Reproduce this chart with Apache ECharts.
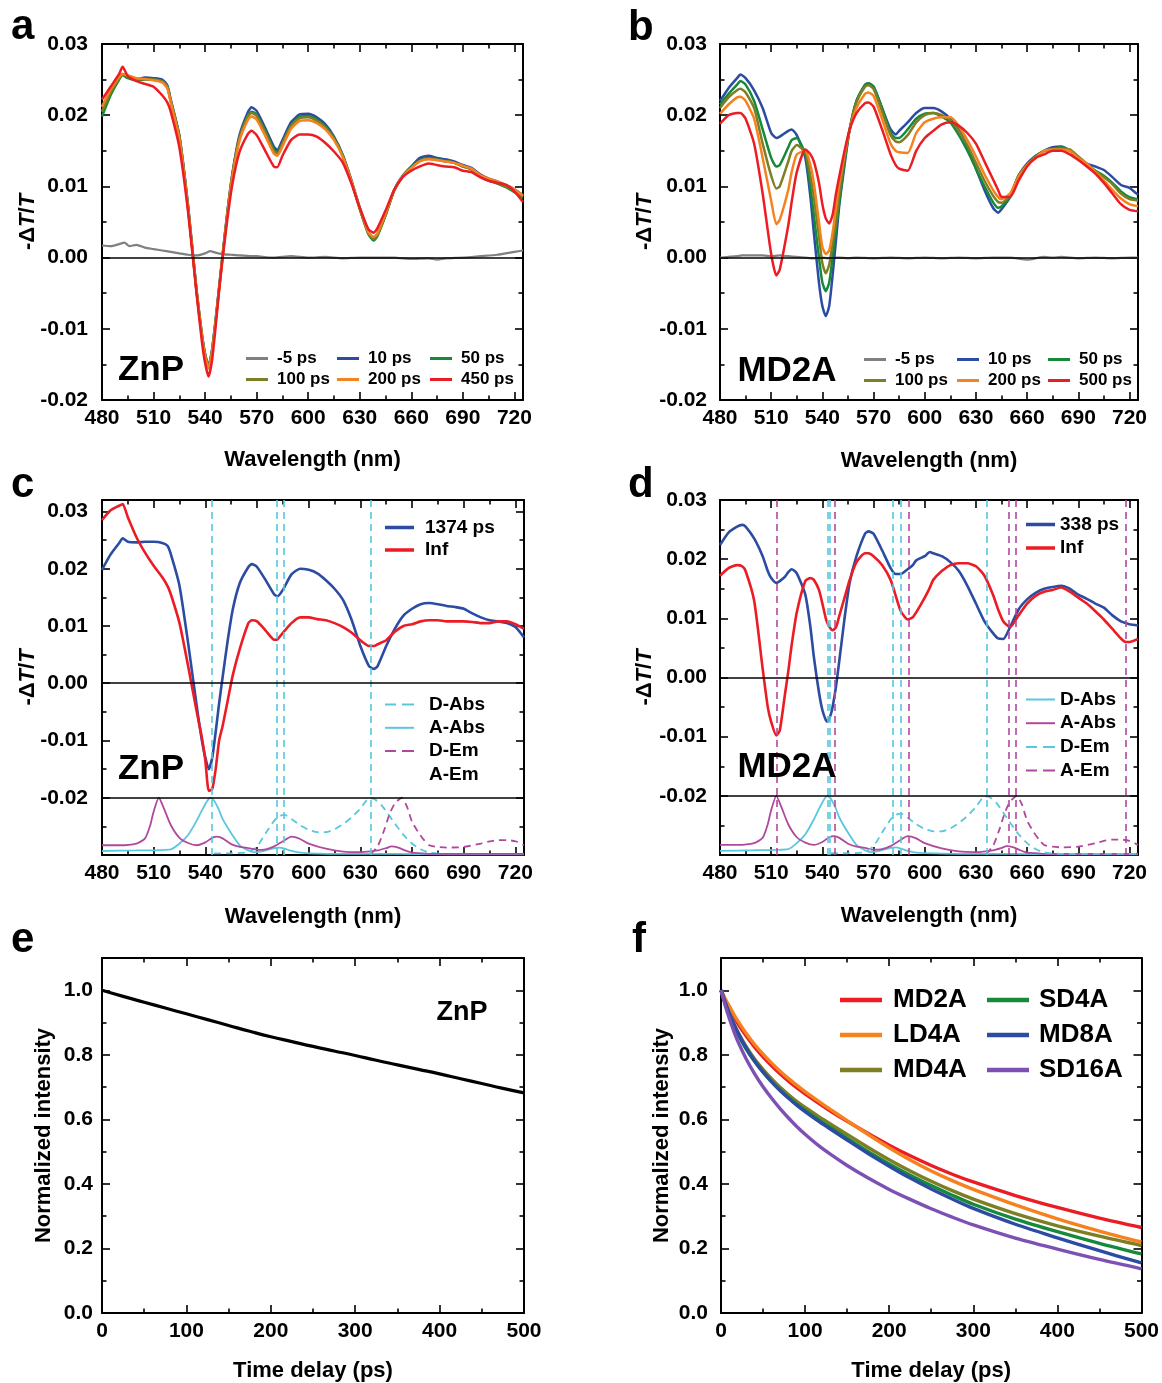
<!DOCTYPE html>
<html><head><meta charset="utf-8">
<script src="https://cdn.jsdelivr.net/npm/echarts@6/dist/echarts.min.js"></script>
<style>html,body{margin:0;padding:0;background:#fff}#c{width:1162px;height:1383px}</style>
</head><body><div id="c"></div>
<script>
// ---------------- DATA ----------------
// Panel a (ZnP transient spectra)
const wlA = [480,485,490,492,495,500,505,510,515,518,520,525,530,535,538,540,542,544,546,548,550,553,556,560,565,567,570,575,580,582,585,590,595,600,605,610,615,620,625,630,635,638,640,645,650,655,660,665,670,675,680,685,690,695,700,705,710,715,720,725];
const wlNeg = [480,485,490,493,496,500,505,510,515,520,525,530,535,540,543,546,550,555,560,570,580,590,600,610,620,630,640,650,660,670,675,680,690,700,710,720,725];
const aNeg5 = [0.0017,0.0016,0.0019,0.0021,0.0016,0.0018,0.0014,0.0012,0.0010,0.0008,0.0006,0.0004,0.0003,0.0006,0.0009,0.0007,0.0005,0.0004,0.0003,0.0002,0.0000,0.0002,0.0000,0.0001,-0.0001,0.0000,0.0000,0.0000,-0.0002,-0.0001,-0.0003,-0.0001,0.0000,0.0002,0.0004,0.0008,0.0010];
const a10 = [0.0211,0.0235,0.0255,0.0258,0.0255,0.0250,0.0253,0.0252,0.0250,0.0242,0.0222,0.0172,0.0075,-0.0045,-0.0105,-0.0135,-0.0152,-0.0130,-0.0090,-0.0045,0.0000,0.0065,0.0120,0.0172,0.0205,0.0211,0.0206,0.0182,0.0156,0.0151,0.0165,0.0190,0.0201,0.0202,0.0197,0.0187,0.0170,0.0145,0.0110,0.0070,0.0035,0.0025,0.0030,0.0060,0.0095,0.0115,0.0128,0.0140,0.0143,0.0140,0.0138,0.0135,0.0130,0.0126,0.0117,0.0111,0.0107,0.0102,0.0096,0.0088];
const a50 = [0.0198,0.0228,0.0250,0.0256,0.0252,0.0249,0.0250,0.0250,0.0247,0.0240,0.0220,0.0170,0.0073,-0.0047,-0.0107,-0.0137,-0.0154,-0.0132,-0.0092,-0.0047,-0.0002,0.0063,0.0118,0.0168,0.0200,0.0205,0.0201,0.0178,0.0152,0.0148,0.0161,0.0186,0.0198,0.0199,0.0194,0.0184,0.0168,0.0144,0.0108,0.0068,0.0033,0.0024,0.0029,0.0059,0.0094,0.0114,0.0127,0.0137,0.0140,0.0138,0.0136,0.0133,0.0128,0.0124,0.0114,0.0108,0.0104,0.0099,0.0092,0.0084];
const a100 = [0.0205,0.0232,0.0252,0.0257,0.0254,0.0250,0.0251,0.0250,0.0248,0.0240,0.0220,0.0170,0.0073,-0.0046,-0.0106,-0.0136,-0.0153,-0.0131,-0.0091,-0.0046,-0.0001,0.0064,0.0118,0.0168,0.0199,0.0203,0.0199,0.0176,0.0150,0.0146,0.0160,0.0185,0.0196,0.0197,0.0192,0.0183,0.0167,0.0143,0.0108,0.0069,0.0034,0.0026,0.0030,0.0060,0.0094,0.0114,0.0126,0.0136,0.0139,0.0137,0.0135,0.0133,0.0128,0.0124,0.0115,0.0109,0.0105,0.0100,0.0094,0.0086];
const a200 = [0.0212,0.0236,0.0254,0.0258,0.0256,0.0252,0.0251,0.0249,0.0246,0.0238,0.0218,0.0167,0.0071,-0.0047,-0.0108,-0.0139,-0.0156,-0.0134,-0.0094,-0.0048,-0.0003,0.0061,0.0115,0.0164,0.0194,0.0198,0.0194,0.0171,0.0146,0.0143,0.0156,0.0181,0.0192,0.0193,0.0189,0.0180,0.0165,0.0142,0.0108,0.0070,0.0036,0.0029,0.0033,0.0062,0.0095,0.0114,0.0126,0.0135,0.0138,0.0137,0.0135,0.0133,0.0129,0.0125,0.0116,0.0111,0.0107,0.0102,0.0096,0.0087];
const a450 = [0.0222,0.0240,0.0258,0.0268,0.0255,0.0248,0.0244,0.0240,0.0228,0.0218,0.0205,0.0155,0.0066,-0.0050,-0.0115,-0.0148,-0.0167,-0.0145,-0.0100,-0.0050,-0.0005,0.0055,0.0105,0.0148,0.0174,0.0178,0.0172,0.0150,0.0128,0.0127,0.0143,0.0165,0.0173,0.0173,0.0170,0.0161,0.0149,0.0134,0.0105,0.0070,0.0040,0.0035,0.0040,0.0066,0.0095,0.0113,0.0122,0.0128,0.0132,0.0130,0.0128,0.0127,0.0122,0.0120,0.0113,0.0108,0.0105,0.0102,0.0093,0.0078];

// Panel b (MD2A transient spectra)
const wlB = [480,485,490,492,495,500,505,510,513,515,520,522,525,530,533,535,538,540,542,544,546,548,550,553,556,560,565,567,570,575,580,583,585,590,595,600,605,610,615,620,625,630,635,640,643,645,650,655,660,665,670,675,680,685,690,695,700,705,710,715,720,725];
const bNeg5 = [0.0000,0.0001,0.0002,0.0003,0.0003,0.0003,0.0003,0.0002,0.0003,0.0002,0.0001,0.0000,-0.0001,0.0000,-0.0001,0.0000,0.0000,-0.0001,0.0000,-0.0001,0.0000,-0.0001,0.0000,-0.0001,0.0000,-0.0001,0.0000,0.0000,-0.0003,0.0001,0.0000,0.0001,-0.0001,0.0000,-0.0001,0.0000,0.0000];
const b10 = [0.0220,0.0238,0.0252,0.0257,0.0252,0.0235,0.0210,0.0175,0.0168,0.0170,0.0178,0.0180,0.0172,0.0140,0.0085,0.0035,-0.0035,-0.0068,-0.0082,-0.0068,-0.0025,0.0025,0.0075,0.0130,0.0180,0.0220,0.0243,0.0245,0.0240,0.0210,0.0180,0.0173,0.0178,0.0190,0.0203,0.0210,0.0210,0.0205,0.0195,0.0180,0.0155,0.0125,0.0095,0.0070,0.0063,0.0068,0.0085,0.0115,0.0132,0.0143,0.0150,0.0155,0.0156,0.0150,0.0140,0.0132,0.0128,0.0123,0.0113,0.0102,0.0098,0.0088];
const b50 = [0.0215,0.0230,0.0243,0.0248,0.0243,0.0220,0.0180,0.0140,0.0128,0.0130,0.0155,0.0165,0.0168,0.0145,0.0100,0.0060,0.0000,-0.0035,-0.0047,-0.0035,0.0000,0.0040,0.0080,0.0135,0.0180,0.0220,0.0242,0.0245,0.0240,0.0210,0.0175,0.0168,0.0168,0.0180,0.0195,0.0202,0.0203,0.0198,0.0190,0.0172,0.0150,0.0125,0.0100,0.0078,0.0070,0.0072,0.0086,0.0115,0.0130,0.0142,0.0150,0.0153,0.0155,0.0150,0.0140,0.0130,0.0122,0.0115,0.0105,0.0093,0.0085,0.0082];
const b100 = [0.0210,0.0225,0.0235,0.0237,0.0232,0.0210,0.0160,0.0115,0.0097,0.0100,0.0135,0.0150,0.0158,0.0148,0.0115,0.0085,0.0030,-0.0008,-0.0022,-0.0010,0.0020,0.0050,0.0090,0.0140,0.0180,0.0218,0.0240,0.0242,0.0237,0.0205,0.0172,0.0163,0.0162,0.0172,0.0190,0.0200,0.0203,0.0200,0.0193,0.0178,0.0158,0.0133,0.0108,0.0087,0.0078,0.0077,0.0088,0.0115,0.0130,0.0142,0.0150,0.0152,0.0153,0.0152,0.0142,0.0132,0.0122,0.0113,0.0103,0.0090,0.0082,0.0080];
const b200 = [0.0202,0.0215,0.0225,0.0226,0.0220,0.0195,0.0140,0.0080,0.0047,0.0053,0.0095,0.0120,0.0145,0.0150,0.0130,0.0105,0.0050,0.0015,0.0005,0.0010,0.0035,0.0070,0.0105,0.0145,0.0180,0.0210,0.0230,0.0232,0.0227,0.0195,0.0160,0.0150,0.0148,0.0147,0.0175,0.0190,0.0195,0.0197,0.0197,0.0185,0.0165,0.0142,0.0117,0.0095,0.0085,0.0082,0.0090,0.0113,0.0130,0.0140,0.0150,0.0152,0.0152,0.0150,0.0140,0.0132,0.0120,0.0108,0.0095,0.0083,0.0075,0.0072];
const b500 = [0.0188,0.0200,0.0203,0.0203,0.0195,0.0160,0.0090,0.0005,-0.0025,-0.0017,0.0045,0.0078,0.0120,0.0152,0.0145,0.0135,0.0105,0.0075,0.0055,0.0048,0.0060,0.0090,0.0115,0.0150,0.0180,0.0203,0.0217,0.0218,0.0212,0.0180,0.0145,0.0130,0.0125,0.0122,0.0150,0.0168,0.0178,0.0187,0.0190,0.0185,0.0175,0.0160,0.0135,0.0110,0.0095,0.0085,0.0085,0.0108,0.0128,0.0140,0.0145,0.0150,0.0150,0.0145,0.0137,0.0128,0.0118,0.0105,0.0090,0.0075,0.0067,0.0065];

// Panel c (ZnP decay-associated spectra)
const c1374 = [0.0198,0.0225,0.0245,0.0253,0.0247,0.0246,0.0247,0.0247,0.0245,0.0240,0.0225,0.0170,0.0070,-0.0040,-0.0100,-0.0130,-0.0150,-0.0130,-0.0085,-0.0035,0.0010,0.0075,0.0130,0.0175,0.0203,0.0208,0.0203,0.0180,0.0155,0.0152,0.0163,0.0190,0.0200,0.0198,0.0192,0.0180,0.0165,0.0145,0.0110,0.0065,0.0030,0.0025,0.0030,0.0065,0.0095,0.0118,0.0130,0.0138,0.0140,0.0138,0.0135,0.0133,0.0130,0.0122,0.0115,0.0110,0.0108,0.0105,0.0098,0.0080];
const cInf = [0.0285,0.0302,0.0310,0.0313,0.0290,0.0255,0.0228,0.0205,0.0185,0.0170,0.0155,0.0105,0.0030,-0.0050,-0.0095,-0.0135,-0.0188,-0.0185,-0.0150,-0.0100,-0.0075,-0.0030,0.0015,0.0060,0.0105,0.0110,0.0108,0.0092,0.0076,0.0077,0.0088,0.0105,0.0115,0.0115,0.0112,0.0110,0.0105,0.0098,0.0088,0.0075,0.0065,0.0065,0.0068,0.0075,0.0090,0.0100,0.0103,0.0108,0.0110,0.0110,0.0108,0.0108,0.0108,0.0107,0.0105,0.0105,0.0108,0.0108,0.0103,0.0095];

// Panel d (MD2A decay-associated spectra)
const wlD = [480,485,490,493,495,500,505,508,510,513,515,518,520,522,525,530,533,535,538,540,542,543,545,546,548,550,553,556,560,565,567,570,575,580,583,586,590,593,595,600,603,605,610,615,620,625,630,635,640,643,646,650,655,660,665,670,675,680,685,690,695,700,705,710,715,718,720,725];
const d338 = [0.0224,0.0245,0.0255,0.0258,0.0255,0.0235,0.0205,0.0180,0.0168,0.0160,0.0163,0.0170,0.0178,0.0183,0.0176,0.0140,0.0085,0.0035,-0.0025,-0.0055,-0.0072,-0.0075,-0.0062,-0.0050,-0.0015,0.0030,0.0100,0.0160,0.0205,0.0243,0.0247,0.0243,0.0215,0.0185,0.0175,0.0175,0.0183,0.0190,0.0198,0.0205,0.0212,0.0210,0.0205,0.0195,0.0180,0.0155,0.0125,0.0095,0.0075,0.0066,0.0065,0.0085,0.0115,0.0132,0.0143,0.0150,0.0153,0.0155,0.0150,0.0140,0.0133,0.0125,0.0118,0.0105,0.0095,0.0092,0.0090,0.0088];
const dInf = [0.0172,0.0185,0.0190,0.0188,0.0180,0.0130,0.0015,-0.0050,-0.0075,-0.0098,-0.0090,-0.0030,0.0010,0.0055,0.0110,0.0163,0.0168,0.0165,0.0148,0.0125,0.0100,0.0092,0.0082,0.0080,0.0085,0.0105,0.0135,0.0165,0.0195,0.0210,0.0210,0.0205,0.0190,0.0165,0.0138,0.0112,0.0098,0.0102,0.0110,0.0135,0.0152,0.0165,0.0180,0.0190,0.0193,0.0193,0.0188,0.0172,0.0140,0.0115,0.0095,0.0085,0.0105,0.0125,0.0138,0.0145,0.0148,0.0152,0.0145,0.0135,0.0125,0.0112,0.0098,0.0082,0.0066,0.0060,0.0060,0.0065];

// Reference absorption / emission spectra (scaled into the bottom band)
const magSolidX = [480,490,500,505,508,510,513,516,520,525,530,535,540,544,547,550,555,560,565,570,575,580,585,590,595,600,610,620,630,640,645,648,652,656,660,665,670,680,700,725];
const magSolidY = [-0.0283,-0.0283,-0.0280,-0.0271,-0.0248,-0.0224,-0.0200,-0.0219,-0.0248,-0.0270,-0.0279,-0.0283,-0.0278,-0.0270,-0.0268,-0.0271,-0.0281,-0.0286,-0.0288,-0.0291,-0.0290,-0.0285,-0.0276,-0.0268,-0.0272,-0.0280,-0.0289,-0.0294,-0.0295,-0.0292,-0.0288,-0.0285,-0.0287,-0.0292,-0.0296,-0.0297,-0.0298,-0.0298,-0.0298,-0.0298];
const cyanSolidX = [480,500,520,525,530,535,538,541,543,545,548,550,555,560,565,568,572,576,580,583,586,590,595,600,620,650,680,725];
const cyanSolidY = [-0.0293,-0.0292,-0.0290,-0.0280,-0.0265,-0.0240,-0.0222,-0.0206,-0.0200,-0.0205,-0.0222,-0.0237,-0.0262,-0.0283,-0.0292,-0.0295,-0.0294,-0.0291,-0.0288,-0.0287,-0.0289,-0.0293,-0.0296,-0.0297,-0.0298,-0.0298,-0.0299,-0.0299];
const cyanDashX = [545,555,565,570,575,580,583,586,590,595,600,605,610,615,620,625,630,635,638,642,646,650,655,660,665,670,680,700,725];
const cyanDashY = [-0.0297,-0.0297,-0.0295,-0.0285,-0.0262,-0.0240,-0.0232,-0.0230,-0.0237,-0.0248,-0.0256,-0.0260,-0.0260,-0.0255,-0.0246,-0.0234,-0.0219,-0.0201,-0.0202,-0.0212,-0.0228,-0.0245,-0.0265,-0.0280,-0.0290,-0.0296,-0.0298,-0.0298,-0.0298];
const magDashX = [636,640,644,647,650,654,657,660,664,667,670,675,680,690,700,705,710,715,720,725];
const magDashY = [-0.0298,-0.0285,-0.0255,-0.0228,-0.0210,-0.0200,-0.0215,-0.0242,-0.0262,-0.0274,-0.0283,-0.0286,-0.0287,-0.0286,-0.0280,-0.0276,-0.0274,-0.0274,-0.0276,-0.0283];
const cLinesCyan = [543.7,581.7,585.4,636.2];
const dLinesCyan = [543.2,544.3,581.5,585.7,636.5];
const dLinesMag = [513,547.4,590.7,649.1,653.3,718];

// Panel e (ZnP kinetics)
const tE = [0,25,50,75,100,125,150,175,200,225,250,275,300,325,350,375,400,425,450,475,500];
const eZnP = [1.0,0.981,0.963,0.945,0.927,0.909,0.891,0.873,0.856,0.841,0.826,0.812,0.798,0.783,0.769,0.755,0.741,0.726,0.711,0.696,0.682];

// Panel f (kinetics of the D-A systems)
const tF = [0,5,10,15,20,30,40,50,60,70,80,90,100,115,130,150,175,200,225,250,275,300,350,400,450,500];
const fMD2A = [1.0,0.971,0.945,0.920,0.897,0.858,0.824,0.794,0.767,0.742,0.719,0.698,0.679,0.652,0.626,0.594,0.556,0.520,0.487,0.457,0.430,0.406,0.364,0.327,0.294,0.265];
const fLD4A = [1.0,0.974,0.950,0.927,0.905,0.866,0.832,0.802,0.775,0.750,0.727,0.706,0.686,0.658,0.631,0.596,0.553,0.512,0.474,0.440,0.410,0.383,0.335,0.292,0.254,0.220];
const fMD4A = [1.0,0.962,0.928,0.898,0.871,0.825,0.787,0.755,0.726,0.700,0.677,0.656,0.637,0.611,0.586,0.553,0.513,0.475,0.440,0.408,0.379,0.353,0.308,0.270,0.238,0.209];
const fSD4A = [1.0,0.960,0.924,0.893,0.865,0.818,0.779,0.746,0.717,0.691,0.668,0.647,0.628,0.601,0.575,0.541,0.500,0.462,0.427,0.395,0.365,0.337,0.291,0.252,0.216,0.183];
const fMD8A = [1.0,0.962,0.928,0.897,0.869,0.821,0.781,0.747,0.717,0.690,0.666,0.644,0.624,0.596,0.570,0.536,0.494,0.455,0.418,0.384,0.353,0.324,0.275,0.233,0.193,0.155];
const fSD16A = [1.0,0.953,0.912,0.875,0.842,0.787,0.741,0.701,0.666,0.634,0.605,0.578,0.554,0.521,0.492,0.457,0.418,0.383,0.352,0.323,0.297,0.273,0.232,0.198,0.166,0.137];

// ---------------- STYLE / BUILD ----------------
const FONT = '"Liberation Sans", Arial, Helvetica, sans-serif';
const COL = {gray:'#808080', blue:'#2c4ba2', green:'#16893a', olive:'#7e7f24', orange:'#f5821f',
  red:'#ec1c24', cyan:'#59c7dd', mag:'#b0499e', purple:'#7c51b3', black:'#000000'};

const grids = [
  {left:102, top:44, width:421, height:356},
  {left:720, top:44, width:418, height:356},
  {left:102, top:500, width:422, height:355},
  {left:720, top:500, width:418, height:355},
  {left:102, top:958, width:422, height:355},
  {left:721, top:958, width:421, height:355}
];

function fmt2(v) {
  const r = Math.round(v * 100) / 100;
  if (Math.abs(v - r) > 1e-9) return '';
  return (r === 0 ? 0 : r).toFixed(2);
}
function fmt2NoBottom(v) { return v < -0.025 ? '' : fmt2(v); }
function fmt1(v) {
  const r = Math.round(v * 10) / 10;
  if (Math.abs(v - r) > 1e-9 || r > 1.05) return '';
  return r.toFixed(1);
}
function fmtX30(v) { return Math.abs(v % 30) < 1e-9 ? String(v) : ''; }
function fmtX100(v) { return Math.abs(v % 100) < 1e-9 ? String(v) : ''; }

const xAxes = [], yAxes = [];
function addAxes(gi, xo, yo) {
  const line = {show:true, onZero:false, lineStyle:{color:'#000', width:2}};
  const tick = {show:true, inside:true, length:8, lineStyle:{color:'#000', width:1.6}};
  const minor = {show:true, splitNumber:2, length:4.5, lineStyle:{color:'#000', width:1.6}};
  const lbl = {color:'#000', fontSize:21, fontWeight:'bold', fontFamily:FONT};
  const nameStyle = {color:'#000', fontSize:22, fontWeight:'bold', fontFamily:FONT,
    rich:{i:{fontStyle:'italic', fontWeight:'bold', fontSize:22, fontFamily:FONT, color:'#000'}}};
  ['bottom','top'].forEach((pos, k) => xAxes.push({
    type:'value', gridIndex:gi, position:pos, min:xo.min, max:xo.max, interval:xo.interval,
    axisLine:line, axisTick:tick, minorTick:minor, splitLine:{show:false}, minorSplitLine:{show:false},
    axisLabel: k === 0 ? Object.assign({show:true, margin:xo.margin, formatter:xo.fmt}, lbl) : {show:false},
    name: k === 0 ? xo.name : '', nameLocation:'middle', nameGap:xo.nameGap, nameTextStyle:nameStyle,
    nameMoveOverlap:false, axisPointer:{show:false}
  }));
  ['left','right'].forEach((pos, k) => yAxes.push({
    type:'value', gridIndex:gi, position:pos, min:yo.min, max:yo.max, interval:yo.interval,
    axisLine:line, axisTick:tick, minorTick:minor, splitLine:{show:false}, minorSplitLine:{show:false},
    axisLabel: k === 0 ? Object.assign({show:true, margin:yo.margin, formatter:yo.fmt}, lbl) : {show:false},
    name: k === 0 ? yo.name : '', nameLocation:'middle', nameGap:yo.nameGap, nameTextStyle:nameStyle,
    nameMoveOverlap:false, axisPointer:{show:false}
  }));
}
const DT = '-\u0394{i|T}/{i|T}';
addAxes(0, {min:480,max:725,interval:30,fmt:fmtX30,margin:8,name:'Wavelength (nm)',nameGap:49},
           {min:-0.02,max:0.03,interval:0.01,fmt:fmt2,margin:14,name:DT,nameGap:63});
addAxes(1, {min:480,max:725,interval:30,fmt:fmtX30,margin:8,name:'Wavelength (nm)',nameGap:50},
           {min:-0.02,max:0.03,interval:0.01,fmt:fmt2,margin:13,name:DT,nameGap:64});
addAxes(2, {min:480,max:725,interval:30,fmt:fmtX30,margin:8,name:'Wavelength (nm)',nameGap:51},
           {min:-0.03,max:0.032,interval:0.01,fmt:fmt2NoBottom,margin:14,name:DT,nameGap:63});
addAxes(3, {min:480,max:725,interval:30,fmt:fmtX30,margin:8,name:'Wavelength (nm)',nameGap:50},
           {min:-0.03,max:0.03,interval:0.01,fmt:fmt2NoBottom,margin:13,name:DT,nameGap:64});
addAxes(4, {min:0,max:500,interval:100,fmt:fmtX100,margin:8,name:'Time delay (ps)',nameGap:47},
           {min:0,max:1.1,interval:0.2,fmt:fmt1,margin:9,name:'Normalized intensity',nameGap:47});
addAxes(5, {min:0,max:500,interval:100,fmt:fmtX100,margin:8,name:'Time delay (ps)',nameGap:47},
           {min:0,max:1.1,interval:0.2,fmt:fmt1,margin:13,name:'Normalized intensity',nameGap:48});

function ln(name, gi, xs, ys, color, width, extra) {
  return Object.assign({
    type:'line', name:name, xAxisIndex:gi*2, yAxisIndex:gi*2,
    data: xs.map((x, i) => [x, ys[i]]),
    showSymbol:false, symbol:'none', smooth:0.2,
    lineStyle:{color:color, width:width}, itemStyle:{color:color},
    emphasis:{disabled:true}, silent:true, animation:false, z:3
  }, extra || {});
}
function hLines(vals) {
  return {silent:true, symbol:['none','none'], label:{show:false}, emphasis:{disabled:true}, animation:false,
    lineStyle:{color:'#000', type:'solid', width:1.6}, data: vals.map(v => ({yAxis:v}))};
}
function vLines(vals, color) {
  return {silent:true, symbol:['none','none'], label:{show:false}, emphasis:{disabled:true}, animation:false,
    lineStyle:{color:color, type:[7,5], width:1.6}, data: vals.map(v => ({xAxis:v}))};
}

const series = [
  // a
  ln('a::-5 ps', 0, wlNeg, aNeg5, COL.gray, 2.2, {markLine: hLines([0])}),
  ln('a::10 ps', 0, wlA, a10, COL.blue, 2.5),
  ln('a::50 ps', 0, wlA, a50, COL.green, 2.5),
  ln('a::100 ps', 0, wlA, a100, COL.olive, 2.5),
  ln('a::200 ps', 0, wlA, a200, COL.orange, 2.5),
  ln('a::450 ps', 0, wlA, a450, COL.red, 2.5),
  // b
  ln('b::-5 ps', 1, wlNeg, bNeg5, COL.gray, 2.2, {markLine: hLines([0])}),
  ln('b::10 ps', 1, wlB, b10, COL.blue, 2.5),
  ln('b::50 ps', 1, wlB, b50, COL.green, 2.5),
  ln('b::100 ps', 1, wlB, b100, COL.olive, 2.5),
  ln('b::200 ps', 1, wlB, b200, COL.orange, 2.5),
  ln('b::500 ps', 1, wlB, b500, COL.red, 2.5),
  // c
  ln('c::D-Abs', 2, cyanDashX, cyanDashY, COL.cyan, 1.8, {lineStyle:{color:COL.cyan, width:1.8, type:[7,5]}, markLine: vLines(cLinesCyan, COL.cyan)}),
  ln('c::A-Abs', 2, cyanSolidX, cyanSolidY, COL.cyan, 1.8),
  ln('c::D-Em', 2, magDashX, magDashY, COL.mag, 1.8, {lineStyle:{color:COL.mag, width:1.8, type:[7,5]}}),
  ln('c::A-Em', 2, magSolidX, magSolidY, COL.mag, 1.8),
  ln('c::1374 ps', 2, wlA, c1374, COL.blue, 2.6, {markLine: hLines([0, -0.02]), z:4}),
  ln('c::Inf', 2, wlA, cInf, COL.red, 2.6, {z:4}),
  // d
  ln('d::D-Abs', 3, cyanSolidX, cyanSolidY, COL.cyan, 1.8),
  ln('d::A-Abs', 3, magSolidX, magSolidY, COL.mag, 1.8),
  ln('d::D-Em', 3, cyanDashX, cyanDashY, COL.cyan, 1.8, {lineStyle:{color:COL.cyan, width:1.8, type:[7,5]}, markLine: vLines(dLinesCyan, COL.cyan)}),
  ln('d::A-Em', 3, magDashX, magDashY, COL.mag, 1.8, {lineStyle:{color:COL.mag, width:1.8, type:[7,5]}, markLine: vLines(dLinesMag, COL.mag)}),
  ln('d::338 ps', 3, wlD, d338, COL.blue, 2.6, {markLine: hLines([0, -0.02]), z:4}),
  ln('d::Inf', 3, wlD, dInf, COL.red, 2.6, {z:4}),
  // e
  ln('e::ZnP', 4, tE, eZnP, COL.black, 3.2, {smooth:0.5}),
  // f
  ln('f::MD2A', 5, tF, fMD2A, COL.red, 3.4, {smooth:0.3}),
  ln('f::LD4A', 5, tF, fLD4A, COL.orange, 3.4, {smooth:0.3}),
  ln('f::MD4A', 5, tF, fMD4A, COL.olive, 3.4, {smooth:0.3}),
  ln('f::SD4A', 5, tF, fSD4A, COL.green, 3.4, {smooth:0.3}),
  ln('f::MD8A', 5, tF, fMD8A, COL.blue, 3.4, {smooth:0.3}),
  ln('f::SD16A', 5, tF, fSD16A, COL.purple, 3.4, {smooth:0.3})
];

// legend icons: solid bar or dashed bar
const ICON_SOLID = 'rect';
const ICON_DASH = 'path://M0,0h11v1h-11z M17,0h12v1h-12z';
function item(name, icon) { return {name:name, icon:icon}; }
function leg(items, left, top, o) {
  return {
    show:true, orient:'vertical', left:left, top:top, padding:0, data:items,
    itemWidth:o.w, itemHeight:o.h, itemGap:o.gap, selectedMode:false, symbolKeepAspect:false,
    formatter: n => n.split('::')[1],
    textStyle:{color:'#000', fontSize:o.fs, fontWeight:'bold', fontFamily:FONT, padding:[0,0,0,o.pad]}
  };
}
const LA = {w:22, h:3, gap:4, fs:17, pad:4};
const S = n => item(n, ICON_SOLID), D = n => item(n, ICON_DASH);
const legends = [
  leg([S('a::-5 ps'), S('a::100 ps')], 246, 350, LA),
  leg([S('a::10 ps'), S('a::200 ps')], 337, 350, LA),
  leg([S('a::50 ps'), S('a::450 ps')], 430, 350, LA),
  leg([S('b::-5 ps'), S('b::100 ps')], 864, 351, LA),
  leg([S('b::10 ps'), S('b::200 ps')], 957, 351, LA),
  leg([S('b::50 ps'), S('b::500 ps')], 1048, 351, LA),
  leg([S('c::1374 ps'), S('c::Inf')], 385, 518, {w:29, h:3.5, gap:3.5, fs:19, pad:6}),
  leg([D('c::D-Abs'), S('c::A-Abs'), D('c::D-Em'), item('c::A-Em','none')], 385, 695, {w:29, h:2, gap:4.3, fs:19, pad:10}),
  leg([S('d::338 ps'), S('d::Inf')], 1026, 515, {w:29, h:3.5, gap:4.5, fs:19, pad:0}),
  leg([S('d::D-Abs'), S('d::A-Abs'), D('d::D-Em'), D('d::A-Em')], 1026, 690, {w:29, h:2, gap:4.7, fs:19, pad:0}),
  leg([S('f::MD2A'), S('f::LD4A'), S('f::MD4A')], 840, 987, {w:42, h:4.5, gap:9, fs:26, pad:6}),
  leg([S('f::SD4A'), S('f::MD8A'), S('f::SD16A')], 987, 987, {w:42, h:4.5, gap:9, fs:26, pad:5})
];

function txt(t, x, y, size) {
  return {type:'text', silent:true, z:10, style:{text:t, x:x, y:y, fill:'#000',
    font:'bold ' + size + 'px ' + FONT, align:'center', verticalAlign:'middle',
    textAlign:'center', textVerticalAlign:'middle'}};
}
function letter(t, left, top) {
  return {type:'text', silent:true, left:left, top:top, z:10,
    style:{text:t, fill:'#000', font:'bold 42px ' + FONT}};
}
const graphic = [
  letter('a', 11, 6), letter('b', 628, 7), letter('c', 11, 464),
  letter('d', 628, 464), letter('e', 11, 919), letter('f', 632, 919),
  txt('ZnP', 151, 370, 35), txt('MD2A', 787, 371, 35),
  txt('ZnP', 151, 769, 35), txt('MD2A', 787, 767, 35),
  txt('ZnP', 462, 1013, 27)
];

const chart = echarts.init(document.getElementById('c'), null, {renderer:'canvas'});
chart.setOption({
  animation:false,
  backgroundColor:'#ffffff',
  tooltip:{show:false},
  grid: grids.map(g => Object.assign({show:false, containLabel:false}, g)),
  xAxis: xAxes,
  yAxis: yAxes,
  legend: legends,
  series: series,
  graphic: graphic
});
</script></body></html>
